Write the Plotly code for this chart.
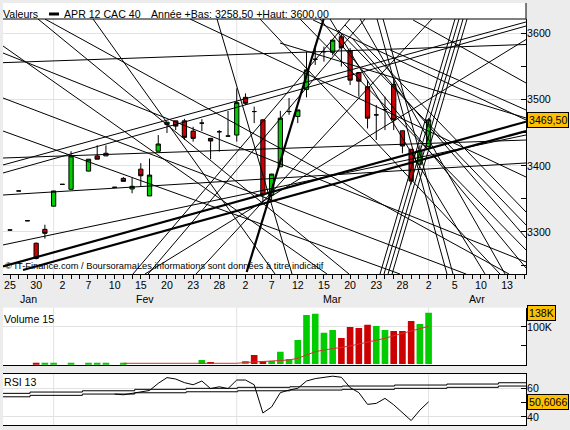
import datetime as dt
import plotly.graph_objects as go

W, H = 570, 430
FONT = "Liberation Sans, Arial, sans-serif"

# ---------------- calendar: weekday axis from 25 Jan 2012 ----------------
first_day = dt.date(2012, 1, 25)
n_days = 60
days = []
d = first_day
while len(days) < n_days:
    if d.weekday() < 5:
        days.append(d)
    d += dt.timedelta(days=1)

month_names = {1: "Jan", 2: "Fev", 3: "Mar", 4: "Avr"}

# ---------------- OHLC, one entry per trading day from 25 Jan (None = no quote) ----------------
opens = [3303, 3362, 3317, 3283, 3304, 3339, 3372, 3364.5, None, 3392,
         3415, 3415, 3367.5, 3381, 3365, 3395, 3354.5, 3422, 3462.5, 3468,
         3468, 3452.5, 3464.5, 3441.5, 3451.5, 3445, 3446.5, 3503.5, 3482, 3469.5,
         3356, 3398.5, 3482, 3474.5, 3515.5, 3561, 3572.5, 3571.5, 3595, 3573.5,
         3541, 3519.5, 3477, 3485, 3523, 3453, 3425, 3402.5, 3429]
highs = [3303, 3362, 3317, 3284, 3311, 3362, 3372, 3422, None, 3410,
         3431, 3431, 3367.5, 3383, 3382, 3404, 3411, 3446.5, 3466, 3468,
         3471, 3459, 3470.5, 3442, 3454, 3483, 3517, 3509.5, 3489.5, 3470,
         3388, 3483, 3502.5, 3484.5, 3572.5, 3582.5, 3580, 3590, 3600, 3578,
         3541, 3529.5, 3492, 3504.5, 3529.5, 3453, 3425, 3431, 3472]
lows = [3303, 3362, 3317, 3258.5, 3290, 3339, 3372, 3364.5, None, 3392,
        3410, 3415, 3367.5, 3376.5, 3358.5, 3368.5, 3354.5, 3422, 3449.5, 3454,
        3439, 3436.5, 3452.5, 3410, 3421.5, 3444, 3436.5, 3492, 3464.5, 3345,
        3348, 3398.5, 3477, 3464.5, 3503.5, 3552.5, 3557.5, 3567, 3550, 3522,
        3504.5, 3456.5, 3439, 3454, 3454, 3419, 3372, 3402.5, 3429]
closes = [3303, 3362, 3317, 3260, 3298, 3362, 3372, 3415, None, 3410,
          3410, 3419, 3367.5, 3376.5, 3369, 3385, 3386, 3433, 3466, 3460,
          3443, 3441.5, 3464.5, 3437.5, 3451.5, 3445, 3495.5, 3494.5, 3482, 3356,
          3387.5, 3472, 3482, 3484.5, 3545, 3561, 3572.5, 3590, 3578.5, 3529.5,
          3528, 3472, 3477, 3485, 3469.5, 3430, 3377, 3423, 3469.5]

# ---------------- Volume (thousands) per trading day from 25 Jan; direction +1 up / -1 down ----------------
volume_k = [None, None, None, 2.5, 2.5, 2.5, None, 2.5, None, 2.5,
            2.5, 2.5, None, 2.5, None, None, None, None, None, None,
            None, None, 10.8, 5.4, None, None, None, 8.1, 24.2, 8.1,
            8.1, 33.1, 13.5, 64.6, 131.8, 135.3, 84.2, 91.5, 69.9, 99.5,
            96.9, 105.8, 102.2, 91.5, 88.8, 88.8, 115.7, 107.6, 138]
volume_dir = [0, 0, 0, -1, 1, 1, 0, 1, 0, 1,
              1, 1, 0, 1, 0, 0, 0, 0, 0, 0,
              0, 0, 1, -1, 0, 0, 0, 1, -1, -1,
              1, 1, 1, 1, 1, 1, 1, 1, -1, -1,
              -1, -1, 1, 1, -1, -1, -1, 1, 1]
# 15-day volume average, from 13 Feb (day index 13)
vol_ma_start = 13
vol_ma = [1.9, 1.9, 1.9, 1.9, 1.9, 1.9, 1.9, 1.9, 1.9, 1.9, 1.9, 1.9, 1.9, 1.9,
          4.0, 5.4, 6.2, 7.5, 8.9, 10.8, 15.3, 24.2, 33.1, 37.7, 41.2, 44.9,
          48.4, 53.8, 58.4, 62.7, 69.1, 76.1, 82.6, 88.0, 94.2, 101.4]

# ---------------- RSI 13, from 10 Feb (day index 12) ----------------
rsi_start = 12
rsi = [56.0, 55.5, 56.5, 57.5, 58.5, 63.5, 67.5, 66.5, 64.0, 62.5,
       65.1, 59.8, 61.1, 59.8, 65.8, 65.8, 62.5, 42.8, 47.0, 57.0,
       58.8, 60.0, 65.1, 66.8, 67.7, 68.5, 67.7, 60.5, 57.0, 48.8,
       49.5, 53.0, 48.5, 43.0, 37.5, 44.8, 50.6066]
# stepped RSI bands (day-index where each step begins, upper and lower levels)
band_start = [-0.8, 2.3, 8.3, 14.3, 20.2, 26.1, 32.1, 38.1, 44.1, 50.1, 56.0, 59.2]
band_upper = [56.5, 57.4, 58.3, 59.3, 60.0, 60.7, 61.1, 61.6, 62.3, 63.0, 63.9, 63.9]
band_lower = [54.1, 55.1, 56.0, 56.9, 57.6, 58.3, 58.8, 59.3, 60.0, 60.7, 61.6, 61.6]

# ---------------- drawn trend lines: (day-index, price) -> (day-index, price) ----------------
trend_thin = [
    (-0.80, 3555.9, 59.17, 3583.4), (-0.80, 3570.5, 59.17, 3254.7),
    (-0.80, 3502.5, 52.29, 3236.5), (4.01, 3621.9, 57.22, 3236.5),
    (9.52, 3621.9, 30.39, 3236.5), (-0.80, 3452.6, 44.72, 3236.5),
    (-0.80, 3401.3, 59.17, 3617.4), (-0.80, 3389.2, 59.17, 3611.3),
    (-0.80, 3280.4, 59.17, 3446.6), (-0.80, 3411.8, 59.17, 3439.0),
    (-0.80, 3355.9, 59.17, 3404.3), (33.26, 3621.9, 59.17, 3272.8),
    (35.55, 3621.9, 59.17, 3245.6), (37.61, 3605.3, 59.17, 3310.6),
    (38.42, 3612.8, 59.17, 3330.2), (39.22, 3593.2, 59.17, 3290.9),
    (40.14, 3621.9, 56.77, 3236.5), (36.70, 3621.9, 54.47, 3236.5),
    (34.75, 3620.4, 59.17, 3469.3), (43.58, 3575.1, 59.17, 3484.4),
    (30.96, 3585.6, 59.17, 3472.3), (46.22, 3620.4, 59.17, 3525.2),
    (42.43, 3236.5, 51.03, 3621.9), (42.89, 3236.5, 51.49, 3621.9),
    (43.35, 3236.5, 51.95, 3621.9), (43.81, 3236.5, 52.41, 3621.9),
    (42.09, 3621.9, 50.11, 3236.5), (42.78, 3621.9, 50.80, 3236.5),
    (23.74, 3621.9, 32.34, 3236.5), (14.10, 3236.5, 38.99, 3621.9),
    (15.83, 3236.5, 40.71, 3621.9), (-0.80, 3581.1, 36.35, 3236.5),
    (20.64, 3621.9, 59.17, 3383.1), (28.67, 3621.9, 56.19, 3236.5),
    (3.21, 3621.9, 38.88, 3236.5), (21.33, 3236.5, 48.39, 3621.9),
    (15.48, 3236.5, 59.17, 3590.9),
]
trend_thick = [
    (-0.80, 3248.0, 59.17, 3466.7),
    (1.49, 3242.6, 59.17, 3452.6),
    (27.14, 3239.6, 35.97, 3621.9),
]

# ---------------- helpers ----------------
def fx(p):
    return p / W

def fy(p):
    return 1 - p / H

def fr(v, nd=2):
    return f"{v:.{nd}f}".replace(".", ",")

X_RANGE = [-0.803, 59.17]
Y_RANGE = [3236.5, 3621.9]
GREEN, RED = "#00cc00", "#cc0000"

fig = go.Figure()

# candlesticks
cx = [i for i, o in enumerate(opens) if o is not None]
fig.add_trace(go.Candlestick(
    x=cx,
    open=[opens[i] for i in cx], high=[highs[i] for i in cx],
    low=[lows[i] for i in cx], close=[closes[i] for i in cx],
    increasing=dict(fillcolor=GREEN, line=dict(color="black", width=1)),
    decreasing=dict(fillcolor=RED, line=dict(color="black", width=1)),
    whiskerwidth=0, xaxis="x", yaxis="y", hoverinfo="skip", showlegend=False))

# trend lines
def seg_xy(lines):
    xs, ys = [], []
    for x0, y0, x1, y1 in lines:
        xs += [x0, x1, None]
        ys += [y0, y1, None]
    return xs, ys

tx, ty = seg_xy(trend_thin)
fig.add_trace(go.Scatter(x=tx, y=ty, mode="lines", line=dict(color="black", width=1),
                         xaxis="x", yaxis="y", hoverinfo="skip", showlegend=False))
tx, ty = seg_xy(trend_thick)
fig.add_trace(go.Scatter(x=tx, y=ty, mode="lines", line=dict(color="black", width=2.2),
                         xaxis="x", yaxis="y", hoverinfo="skip", showlegend=False))

# volume
vx = [i for i, v in enumerate(volume_k) if v is not None]
fig.add_trace(go.Bar(x=vx, y=[volume_k[i] for i in vx],
                     marker=dict(color=[GREEN if volume_dir[i] > 0 else RED for i in vx], line=dict(width=0)),
                     xaxis="x2", yaxis="y2", hoverinfo="skip", showlegend=False))
fig.add_trace(go.Scatter(x=list(range(vol_ma_start, vol_ma_start + len(vol_ma))), y=vol_ma,
                         mode="lines", line=dict(color="#d03030", width=1),
                         xaxis="x2", yaxis="y2", hoverinfo="skip", showlegend=False))

# RSI
for band in (band_upper, band_lower):
    fig.add_trace(go.Scatter(x=band_start, y=band, mode="lines", line=dict(color="black", width=1, shape="hv"),
                             xaxis="x3", yaxis="y3", hoverinfo="skip", showlegend=False))
fig.add_trace(go.Scatter(x=list(range(rsi_start, rsi_start + len(rsi))), y=rsi, mode="lines",
                         line=dict(color="black", width=1),
                         xaxis="x3", yaxis="y3", hoverinfo="skip", showlegend=False))

# ---------------- axes ----------------
xdom = [fx(3), fx(526)]
tick_idx = list(range(0, 58, 3))
tfont = dict(family=FONT, size=10.6, color="black")
common_x = dict(domain=xdom, range=X_RANGE, showgrid=False, zeroline=False,
                showline=True, linecolor="black", linewidth=1, fixedrange=True)

fig.update_layout(
    width=W, height=H, margin=dict(l=0, r=0, t=0, b=0),
    paper_bgcolor="#ececec", plot_bgcolor="white",
    showlegend=False, hovermode=False, bargap=0.24, boxgap=0.3,
    font=tfont,
    xaxis=dict(**common_x, anchor="y", ticks="outside", ticklen=4, tickcolor="black",
               tickvals=tick_idx, ticktext=[str(days[i].day) for i in tick_idx], tickfont=tfont,
               ticklabelstandoff=-3,
               minor=dict(ticks="outside", ticklen=4, dtick=1, tick0=0, tickcolor="black", showgrid=False),
               rangeslider=dict(visible=False)),
    yaxis=dict(domain=[fy(274), fy(19)], range=Y_RANGE, anchor="x", side="right",
               showline=True, linecolor="black", linewidth=1, zeroline=False,
               ticks="inside", ticklen=5, tickcolor="black", tickvals=[3300, 3400, 3500, 3600],
               ticktext=["3300", "3400", "3500", "3600"], tickfont=tfont, ticklabelstandoff=-2,
               minor=dict(ticks="inside", ticklen=5, tickvals=[3250, 3350, 3450, 3550], tickcolor="black"),
               showgrid=True, gridcolor="#e2e2e2", gridwidth=1, fixedrange=True),
    xaxis2=dict(**common_x, anchor="y2", matches="x", showticklabels=False, ticks=""),
    yaxis2=dict(domain=[fy(365), fy(307.7)], range=[-2.7, 151.5], anchor="x2", side="right",
                showline=True, linecolor="black", linewidth=1, zeroline=False,
                ticks="inside", ticklen=5, tickcolor="black", tickvals=[100], ticktext=["100K"], tickfont=tfont,
                ticklabelstandoff=-2,
                minor=dict(ticks="inside", ticklen=5, tickvals=[50], tickcolor="black"),
                showgrid=True, gridcolor="#e2e2e2", fixedrange=True),
    xaxis3=dict(**common_x, anchor="y3", matches="x", showticklabels=False, ticks="", mirror=True),
    yaxis3=dict(domain=[fy(425), fy(374.3)], range=[34.4, 69.8], anchor="x3", side="right",
                showline=True, linecolor="black", linewidth=1, zeroline=False,
                ticks="inside", ticklen=5, tickcolor="black", tickvals=[40, 60], ticktext=["40", "60"], tickfont=tfont,
                ticklabelstandoff=-2,
                minor=dict(ticks="inside", ticklen=5, tickvals=[50], tickcolor="black"),
                showgrid=True, gridcolor="#e2e2e2", fixedrange=True),
)

# ---------------- shapes ----------------
shapes = [
    dict(type="rect", xref="paper", yref="paper", x0=fx(3), x1=fx(526), y0=fy(19), y1=fy(3),
         fillcolor="white", line=dict(width=0), layer="below"),
    dict(type="line", xref="paper", yref="paper", x0=fx(3), x1=fx(526), y0=fy(19), y1=fy(19),
         line=dict(color="black", width=1)),
    dict(type="line", xref="paper", yref="paper", x0=fx(526), x1=fx(526), y0=fy(19), y1=fy(3),
         line=dict(color="black", width=1)),
    dict(type="rect", xref="paper", yref="paper", x0=fx(49), x1=fx(59), y0=fy(15.5), y1=fy(12.5),
         fillcolor="black", line=dict(width=0)),
]
month_starts = [i for i in range(1, len(days)) if days[i].month != days[i - 1].month]
for ms in month_starts:
    for xr, yr in (("x", "y domain"), ("x2", "y2 domain"), ("x3", "y3 domain")):
        shapes.append(dict(type="line", xref=xr, yref=yr, x0=ms, x1=ms, y0=0, y1=1,
                           line=dict(color="#e2e2e2", width=1), layer="below"))
fig.update_layout(shapes=shapes)

# ---------------- annotations ----------------
ann = []
def txt(text, x, y, size=10.6, xanchor="left", xref="paper", yref="paper", **kw):
    ann.append(dict(text=text, x=x, y=y, xref=xref, yref=yref, xanchor=xanchor, yanchor="middle",
                    showarrow=False, font=dict(family=FONT, size=size, color="black"), **kw))

lo = min(v for v in lows if v is not None)
hi = max(v for v in highs if v is not None)
txt("Valeurs", fx(1), fy(14))
txt("APR 12 CAC 40", fx(62), fy(14))
txt(f"Année +Bas: {fr(lo)} +Haut: {fr(hi)}", fx(149), fy(14))
txt("© IT-Finance.com / BoursoramaLes informations sont données à titre indicatif", fx(3), fy(266), size=9.3)
txt("Volume 15", fx(2), fy(319))
txt("RSI 13", fx(2), fy(382))

bounds = [X_RANGE[0]] + month_starts + [X_RANGE[1]]
months = [days[0].month] + [days[i].month for i in month_starts]
for k, m in enumerate(months):
    txt(month_names[m], (bounds[k] + bounds[k + 1]) / 2, fy(299), xanchor="center", xref="x")

box = dict(bgcolor="#ffc000", bordercolor="black", borderwidth=1, borderpad=1)
txt(fr(closes[-1]), fx(526.5), closes[-1], yref="y", **box)
txt(f"{volume_k[-1]:.0f}K", fx(526.5), volume_k[-1], yref="y2", **box)
txt(fr(rsi[-1], 4), fx(526.5), rsi[-1], yref="y3", **box)
fig.update_layout(annotations=ann)

fig.write_html("out.html")
